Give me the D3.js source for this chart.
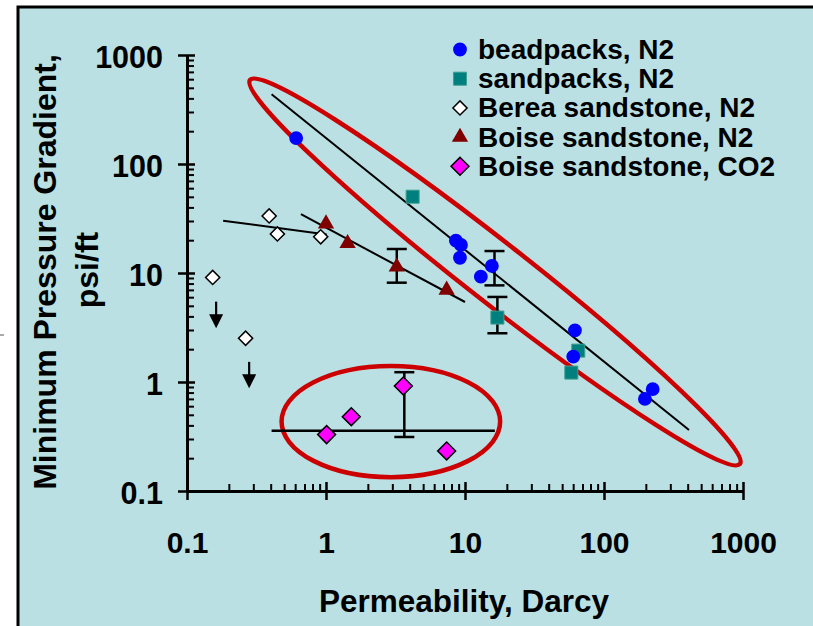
<!DOCTYPE html>
<html>
<head>
<meta charset="utf-8">
<script src="https://cdn.jsdelivr.net/npm/d3@7"></script>
<style>
  html, body { margin: 0; padding: 0; background: #ffffff; }
  svg { display: block; }
  text { font-family: "Liberation Sans", Arial, sans-serif; font-weight: bold; fill: #000; }
</style>
</head>
<body>
<svg id="chart" width="813" height="626"></svg>
<script>
// ---------------- data ----------------
const tickValues = [0.1, 1, 10, 100, 1000];
const tickLabels = ["0.1", "1", "10", "100", "1000"];

const seriesNames = ["beadpacks, N2", "sandpacks, N2", "Berea sandstone, N2", "Boise sandstone, N2", "Boise sandstone, CO2"];

const beadK = [0.61, 8.6, 9.35, 9.2, 15.6, 13.0, 61.8, 60.1, 224, 197];
const beadG = [173, 19.8, 18.1, 13.8, 11.6, 9.25, 2.98, 1.71, 0.86, 0.70];

const sandK = [4.2, 17.1, 65.3, 58.2];
const sandG = [50.1, 3.9, 1.94, 1.22];

const bereaK = [0.39, 0.447, 0.916, 0.153, 0.264];
const bereaG = [33.4, 22.8, 21.5, 9.1, 2.52];

const boiseN2K = [1.0, 1.43, 3.23, 7.38];
const boiseN2G = [28.3, 18.7, 11.4, 6.98];

const boiseCO2K = [1.01, 1.52, 3.6, 7.38];
const boiseCO2G = [0.329, 0.481, 0.919, 0.233];

// error bars (permeability, low, high)
const errK  = [3.23, 16.3, 17.1, 3.66];
const errLo = [8.15, 7.7, 2.8, 0.313];
const errHi = [16.6, 15.9, 6.03, 1.23];

// trend lines [k1, g1, k2, g2]
const trendBead   = [0.406, 436, 409, 0.363];
const trendBerea  = [0.182, 30.2, 1.01, 22.6];
const trendBoise  = [0.66, 34.6, 10, 5.42];
const trendCO2    = [0.406, 0.357, 16.4, 0.357];

// "upper bound" arrows for Berea (k, from, to)
const arrowK    = [0.162, 0.28];
const arrowFrom = [5.46, 1.53];
const arrowTo   = [3.11, 0.875];

// highlight ellipses (data coordinates)
const bigEllipseEnds = [0.284, 590, 951, 0.177];   // tip-to-tip along major axis
const smallEllipseBox = [0.479, 17.9, 0.134, 1.40]; // kMin, kMax, gMin, gMax

// ---------------- drawing ----------------
const svg = d3.select("#chart");

// panel background
svg.append("rect").attr("x", 18).attr("y", 7).attr("width", 820).attr("height", 640)
  .attr("fill", "#bae0e3").attr("stroke", "#000").attr("stroke-width", 3);
// small stray mark at the left margin
svg.append("line").attr("x1", 0).attr("x2", 4).attr("y1", 335).attr("y2", 335)
  .attr("stroke", "#555").attr("stroke-width", 1);

const x = d3.scaleLog().domain([0.1, 1000]).range([187, 743]);
const y = d3.scaleLog().domain([0.1, 1000]).range([491, 55]);

const minorVals = [];
for (let e = -1; e < 3; e++) for (let m = 2; m <= 9; m++) minorVals.push(m * Math.pow(10, e));
const labelOf = d => tickLabels[tickValues.indexOf(d)];

// X axis
const gx = svg.append("g").attr("transform", `translate(0,${y(0.1)})`)
  .call(d3.axisBottom(x).tickValues(tickValues).tickFormat(labelOf).tickSize(9).tickSizeOuter(0));
gx.select(".domain").attr("stroke", "#000").attr("stroke-width", 3);
gx.selectAll(".tick line").attr("y1", -9).attr("stroke-width", 2.5);
gx.selectAll(".tick text").attr("y", 62).attr("dy", null).style("font-size", "30px");
const gxm = svg.append("g").attr("transform", `translate(0,${y(0.1)})`)
  .call(d3.axisTop(x).tickValues(minorVals).tickFormat("").tickSize(7).tickSizeOuter(0));
gxm.select(".domain").remove();
gxm.selectAll(".tick line").attr("stroke-width", 2);

// Y axis
const gy = svg.append("g").attr("transform", `translate(${x(0.1)},0)`)
  .call(d3.axisLeft(y).tickValues(tickValues).tickFormat(labelOf).tickSize(9).tickSizeOuter(0));
gy.select(".domain").attr("stroke", "#000").attr("stroke-width", 3);
gy.selectAll(".tick line").attr("x1", 8).attr("stroke-width", 2.5);
gy.selectAll(".tick text").attr("x", -24).attr("dy", "0.42em").style("font-size", "30.5px");
const gym = svg.append("g").attr("transform", `translate(${x(0.1)},0)`)
  .call(d3.axisRight(y).tickValues(minorVals).tickFormat("").tickSize(7).tickSizeOuter(0));
gym.select(".domain").remove();
gym.selectAll(".tick line").attr("stroke-width", 2);
svg.selectAll(".domain").attr("fill", "none");

// axis titles
svg.append("text").attr("x", 464).attr("y", 612).attr("text-anchor", "middle")
  .style("font-size", "31.5px").text("Permeability, Darcy");
svg.append("text").attr("transform", "translate(56,272) rotate(-90)").attr("text-anchor", "middle")
  .style("font-size", "32px").text("Minimum Pressure Gradient,");
svg.append("text").attr("transform", "translate(98,270) rotate(-90)").attr("text-anchor", "middle")
  .style("font-size", "32px").text("psi/ft");

// ellipses
{
  const [k1, g1, k2, g2] = bigEllipseEnds;
  const p1 = [x(k1), y(g1)], p2 = [x(k2), y(g2)];
  const cx = (p1[0] + p2[0]) / 2, cy = (p1[1] + p2[1]) / 2;
  const a = Math.hypot(p2[0] - p1[0], p2[1] - p1[1]) / 2;
  const ang = Math.atan2(p2[1] - p1[1], p2[0] - p1[0]) * 180 / Math.PI;
  svg.append("ellipse").attr("cx", cx).attr("cy", cy).attr("rx", a).attr("ry", 30)
    .attr("transform", `rotate(${ang},${cx},${cy})`)
    .attr("fill", "none").attr("stroke", "#cc0000").attr("stroke-width", 4.5);
}
{
  const [k0, k1, g0, g1] = smallEllipseBox;
  const cx = (x(k0) + x(k1)) / 2, cy = (y(g0) + y(g1)) / 2;
  svg.append("ellipse").attr("cx", cx).attr("cy", cy)
    .attr("rx", (x(k1) - x(k0)) / 2).attr("ry", (y(g0) - y(g1)) / 2)
    .attr("fill", "none").attr("stroke", "#cc0000").attr("stroke-width", 4.5);
}

// trend lines
[trendBead, trendBerea, trendBoise].forEach(t => {
  svg.append("line").attr("x1", x(t[0])).attr("y1", y(t[1])).attr("x2", x(t[2])).attr("y2", y(t[3]))
    .attr("stroke", "#000").attr("stroke-width", 2);
});
svg.append("line").attr("x1", x(trendCO2[0])).attr("y1", y(trendCO2[1]))
  .attr("x2", x(trendCO2[2])).attr("y2", y(trendCO2[3]))
  .attr("stroke", "#000").attr("stroke-width", 2.5);

// error bars
errK.forEach((k, i) => {
  const xx = x(k), yl = y(errLo[i]), yh = y(errHi[i]);
  const g = svg.append("g").attr("stroke", "#000").attr("stroke-width", 2.5);
  g.append("line").attr("x1", xx).attr("x2", xx).attr("y1", yl).attr("y2", yh);
  g.append("line").attr("x1", xx - 10).attr("x2", xx + 10).attr("y1", yl).attr("y2", yl);
  g.append("line").attr("x1", xx - 10).attr("x2", xx + 10).attr("y1", yh).attr("y2", yh);
});

// arrows
arrowK.forEach((k, i) => {
  const xx = x(k), y0 = y(arrowFrom[i]), y1 = y(arrowTo[i]);
  svg.append("line").attr("x1", xx).attr("x2", xx).attr("y1", y0).attr("y2", y1 - 12)
    .attr("stroke", "#000").attr("stroke-width", 2.2);
  svg.append("path").attr("d", `M${xx - 7},${y1 - 14} L${xx + 7},${y1 - 14} L${xx},${y1} Z`).attr("fill", "#000");
});

// marker helpers
const sym = (type, size) => d3.symbol().type(type).size(size)();
const styles = [
  { type: d3.symbolCircle, size: 150, fill: "#0000ff", stroke: "none", sw: 0, rot: 0 },
  { type: d3.symbolSquare, size: 170, fill: "#007f7f", stroke: "#3f9f8f", sw: 1, rot: 0 },
  { type: d3.symbolSquare, size: 100, fill: "#ffffff", stroke: "#000", sw: 1.5, rot: 45 },
  { type: d3.symbolTriangle, size: 115, fill: "#800000", stroke: "none", sw: 0, rot: 0 },
  { type: d3.symbolSquare, size: 160, fill: "#ff00ff", stroke: "#000", sw: 1.5, rot: 45 }
];
const seriesK = [beadK, sandK, bereaK, boiseN2K, boiseCO2K];
const seriesG = [beadG, sandG, bereaG, boiseN2G, boiseCO2G];

const drawOrder = [2, 3, 1, 0, 4];
drawOrder.forEach(si => {
  const st = styles[si];
  const pts = seriesK[si].map((k, i) => [k, seriesG[si][i]]);
  svg.append("g").selectAll("path").data(pts).join("path")
    .attr("d", sym(st.type, st.size))
    .attr("transform", d => `translate(${x(d[0])},${y(d[1])}) rotate(${st.rot})`)
    .attr("fill", st.fill).attr("stroke", st.stroke).attr("stroke-width", st.sw);
});

// legend
const legend = svg.append("g");
seriesNames.forEach((name, i) => {
  const st = styles[i];
  const cy = 49.5 + i * 29.2;
  legend.append("path").attr("d", sym(st.type, st.size))
    .attr("transform", `translate(460,${cy}) rotate(${st.rot})`)
    .attr("fill", st.fill).attr("stroke", st.stroke).attr("stroke-width", st.sw);
  legend.append("text").attr("x", 478).attr("y", cy + 9.5).style("font-size", "28px").text(name);
});
</script>
</body>
</html>
